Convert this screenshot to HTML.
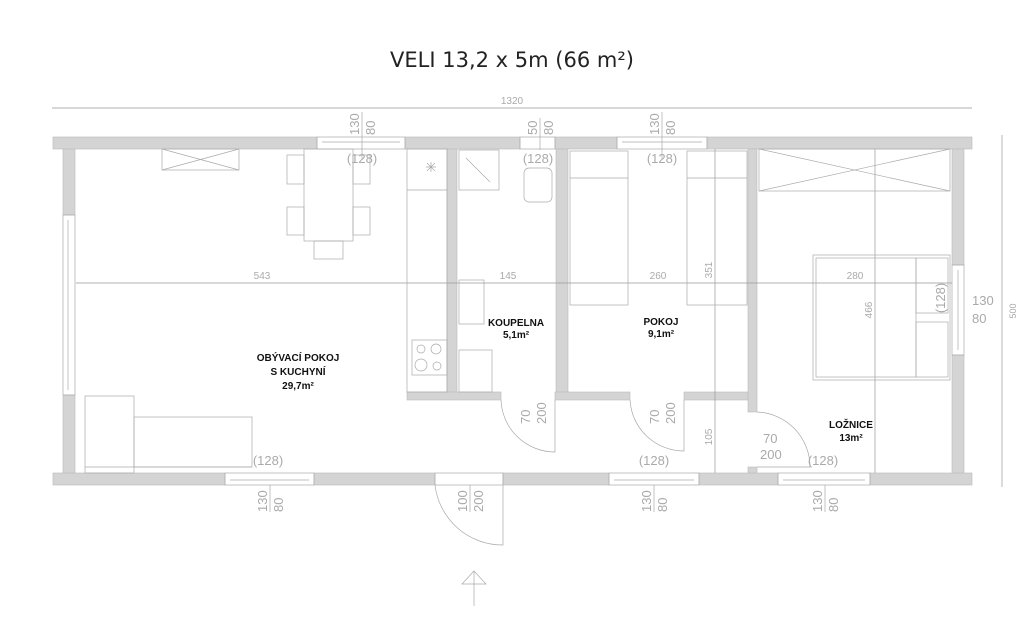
<!DOCTYPE html>
<html><head><meta charset="utf-8"><style>
html,body{margin:0;padding:0;background:#fff;}
svg{display:block;}
text{font-family:"Liberation Sans",sans-serif;}
.d{fill:#aaa;font-size:10px;}
.w{fill:#aaa;font-size:13px;}
.r{fill:#111;font-size:10px;font-weight:bold;}
</style></head><body>
<svg width="1024" height="643" viewBox="0 0 1024 643" xmlns="http://www.w3.org/2000/svg">
<text x="512" y="67" text-anchor="middle" style="font-size:21px;fill:#222;font-family:'DejaVu Sans',sans-serif">VELI 13,2 x 5m (66 m²)</text>
<!-- overall dim -->
<line x1="52" y1="108" x2="972" y2="108" stroke="#999" stroke-width="0.7"/>
<text x="512" y="104" class="d" text-anchor="middle">1320</text>
<line x1="1002" y1="135" x2="1002" y2="487" stroke="#999" stroke-width="0.7"/>
<text transform="translate(1016,311) rotate(-90)" class="d" text-anchor="middle" style="font-size:9px">500</text>
<g fill="#d4d4d4" stroke="#bbb" stroke-width="0.6">
<!-- top wall -->
<rect x="53" y="137" width="264" height="12"/>
<rect x="405" y="137" width="115" height="12"/>
<rect x="555" y="137" width="62" height="12"/>
<rect x="707" y="137" width="265" height="12"/>
<!-- bottom wall -->
<rect x="53" y="473" width="172" height="12"/>
<rect x="314" y="473" width="121" height="12"/>
<rect x="503" y="473" width="106" height="12"/>
<rect x="699" y="473" width="79" height="12"/>
<rect x="870" y="473" width="102" height="12"/>
<!-- left wall -->
<rect x="63" y="149" width="12" height="66"/>
<rect x="63" y="395" width="12" height="78"/>
<!-- right wall -->
<rect x="952" y="149" width="12" height="116"/>
<rect x="952" y="355" width="12" height="118"/>
<!-- interior -->
<rect x="447" y="149" width="10" height="243"/>
<rect x="556" y="149" width="12" height="243"/>
<rect x="748" y="149" width="9" height="263"/>
<rect x="748" y="467" width="9" height="6"/>
<rect x="407" y="392" width="94" height="8"/>
<rect x="555" y="392" width="75" height="8"/>
<rect x="684" y="392" width="64" height="8"/>
</g>
<g fill="none" stroke="#aaa" stroke-width="0.7">
<!-- windows -->
<rect x="317" y="137" width="88" height="12"/><line x1="322" y1="142" x2="400" y2="142"/>
<rect x="520" y="137" width="35" height="12"/>
<rect x="617" y="137" width="90" height="12"/><line x1="622" y1="142" x2="702" y2="142"/>
<rect x="225" y="473" width="89" height="12"/><line x1="230" y1="480" x2="309" y2="480"/>
<rect x="609" y="473" width="90" height="12"/><line x1="614" y1="480" x2="694" y2="480"/>
<rect x="778" y="473" width="92" height="12"/><line x1="783" y1="480" x2="865" y2="480"/>
<rect x="63" y="215" width="12" height="180"/><line x1="68" y1="220" x2="68" y2="390"/>
<rect x="952" y="265" width="12" height="90"/><line x1="958" y1="270" x2="958" y2="350"/>
<rect x="435" y="473" width="68" height="12"/>
<!-- window labels ticks -->
<line x1="362" y1="112" x2="362" y2="160"/>
<line x1="540" y1="118" x2="540" y2="150"/>
<line x1="662" y1="112" x2="662" y2="160"/>
<line x1="270" y1="485" x2="270" y2="512"/>
<line x1="654" y1="485" x2="654" y2="512"/>
<line x1="825" y1="485" x2="825" y2="512"/>
<line x1="470" y1="485" x2="470" y2="512"/>
<!-- doors -->
<path d="M555 400 L555 452 A54 54 0 0 1 501 400"/>
<path d="M684 400 L684 451 A54 54 0 0 1 630 400"/>
<path d="M757 412 A55 55 0 0 1 810 467 L757 467"/>
<path d="M503 485 L503 545 A68 68 0 0 1 435 485"/>
<!-- north arrow -->
<path d="M462 584 L474 571 L486 584 Z M474 571 L474 606"/>
<!-- dimension lines -->
<line x1="76" y1="283" x2="952" y2="283" stroke="#999"/>
<line x1="715" y1="149" x2="715" y2="473" stroke="#999"/>
<line x1="875" y1="149" x2="875" y2="473" stroke="#999"/>
<!-- living furniture -->
<rect x="162" y="149" width="77" height="21"/><path d="M162 149 L239 170 M239 149 L162 170"/>
<rect x="304" y="149" width="49" height="92"/>
<rect x="314" y="241" width="29" height="18"/>
<rect x="287" y="155" width="17" height="29"/><rect x="353" y="155" width="17" height="29"/>
<rect x="287" y="207" width="17" height="28"/><rect x="353" y="207" width="17" height="28"/>
<rect x="85" y="396" width="49" height="77"/>
<rect x="134" y="417" width="118" height="50"/>
<line x1="85" y1="467" x2="252" y2="467"/>
<!-- kitchen -->
<rect x="407" y="149" width="40" height="243"/>
<line x1="407" y1="190" x2="447" y2="190"/>
<rect x="412" y="340" width="35" height="35"/>
<circle cx="421" cy="349" r="4"/><circle cx="436" cy="349" r="5"/><circle cx="421" cy="365" r="6"/><circle cx="437" cy="366" r="4"/>
<path d="M427 163 L435 171 M435 163 L427 171 M431 162 L431 172 M426 167 L436 167"/>
<!-- bathroom -->
<rect x="459" y="150" width="40" height="40"/><line x1="466" y1="158" x2="490" y2="182"/>
<rect x="524" y="168" width="28" height="34" rx="5"/>
<rect x="459" y="280" width="25" height="44"/>
<rect x="459" y="350" width="33" height="42"/>
<!-- pokoj beds -->
<rect x="570" y="151" width="58" height="154"/><line x1="570" y1="178" x2="628" y2="178"/>
<rect x="687" y="151" width="60" height="154"/><line x1="687" y1="178" x2="747" y2="178"/>
<!-- loznice -->
<rect x="759" y="149" width="191" height="42"/><path d="M759 149 L950 191 M950 149 L759 191"/>
<rect x="813" y="255" width="137" height="125"/>
<rect x="816" y="258" width="100" height="119"/>
<rect x="916" y="258" width="32" height="55"/><rect x="916" y="322" width="32" height="55"/>
</g>
<!-- dimension labels -->
<text x="262" y="279" class="d" text-anchor="middle">543</text>
<text x="508" y="279" class="d" text-anchor="middle">145</text>
<text x="658" y="279" class="d" text-anchor="middle">260</text>
<text x="855" y="279" class="d" text-anchor="middle">280</text>
<text transform="translate(712,270) rotate(-90)" class="d" text-anchor="middle">351</text>
<text transform="translate(872,310) rotate(-90)" class="d" text-anchor="middle">466</text>
<text transform="translate(712,437) rotate(-90)" class="d" text-anchor="middle">105</text>
<!-- window labels -->
<g class="w">
<text transform="translate(359,135) rotate(-90)" text-anchor="start">130</text>
<text transform="translate(375,135) rotate(-90)" text-anchor="start">80</text>
<text transform="translate(537,135) rotate(-90)">50</text>
<text transform="translate(553,135) rotate(-90)">80</text>
<text transform="translate(659,135) rotate(-90)">130</text>
<text transform="translate(675,135) rotate(-90)">80</text>
<text x="362" y="163" text-anchor="middle">(128)</text>
<text x="538" y="163" text-anchor="middle">(128)</text>
<text x="662" y="163" text-anchor="middle">(128)</text>
<text x="268" y="465" text-anchor="middle">(128)</text>
<text x="654" y="465" text-anchor="middle">(128)</text>
<text x="823" y="465" text-anchor="middle">(128)</text>
<text transform="translate(945,298) rotate(-90)" text-anchor="middle">(128)</text>
<text x="972" y="305">130</text><text x="972" y="323">80</text>
<text transform="translate(267,512) rotate(-90)">130</text>
<text transform="translate(283,512) rotate(-90)">80</text>
<text transform="translate(651,512) rotate(-90)">130</text>
<text transform="translate(667,512) rotate(-90)">80</text>
<text transform="translate(822,512) rotate(-90)">130</text>
<text transform="translate(838,512) rotate(-90)">80</text>
<text transform="translate(467,512) rotate(-90)">100</text>
<text transform="translate(483,512) rotate(-90)">200</text>
<text transform="translate(530,424) rotate(-90)">70</text>
<text transform="translate(546,424) rotate(-90)">200</text>
<text transform="translate(659,424) rotate(-90)">70</text>
<text transform="translate(675,424) rotate(-90)">200</text>
<text x="763" y="443">70</text><text x="760" y="459">200</text>
</g>
<!-- room labels -->
<text x="298" y="361" class="r" text-anchor="middle">OBÝVACÍ POKOJ</text>
<text x="298" y="375" class="r" text-anchor="middle">S KUCHYNÍ</text>
<text x="298" y="389" class="r" text-anchor="middle">29,7m²</text>
<text x="516" y="326" class="r" text-anchor="middle">KOUPELNA</text>
<text x="516" y="338" class="r" text-anchor="middle">5,1m²</text>
<text x="661" y="325" class="r" text-anchor="middle">POKOJ</text>
<text x="661" y="337" class="r" text-anchor="middle">9,1m²</text>
<text x="851" y="428" class="r" text-anchor="middle">LOŽNICE</text>
<text x="851" y="441" class="r" text-anchor="middle">13m²</text>
</svg>
</body></html>
